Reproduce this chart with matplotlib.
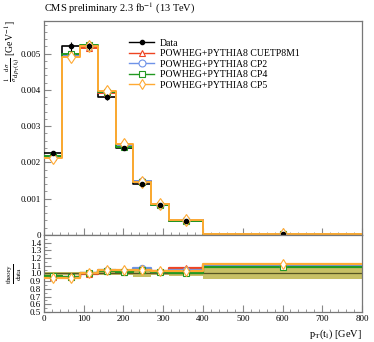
import numpy as np
import matplotlib
matplotlib.use("Agg")
import matplotlib.pyplot as plt
from matplotlib.lines import Line2D
from matplotlib.ticker import MultipleLocator, FixedLocator, FuncFormatter

plt.rcParams["font.family"] = ["Liberation Serif", "DejaVu Serif"]
plt.rcParams["mathtext.fontset"] = "stix"

# --- data ---
bin_edges = [0, 45, 90, 135, 180, 225, 270, 315, 400, 800]
data_vals = [0.00225, 0.00520, 0.00520, 0.00380, 0.00240, 0.00140, 0.00082, 0.00039, 0.00002]
data_err = [0.00005, 0.00012, 0.00010, 0.00008, 0.00005, 0.00005, 0.00003, 0.00001, 0.000002]
band_err = [0.025, 0.025, 0.02, 0.02, 0.02, 0.04, 0.02, 0.03, 0.07]

model_names = ["POWHEG+PYTHIA8 CUETP8M1", "POWHEG+PYTHIA8 CP2",
               "POWHEG+PYTHIA8 CP4", "POWHEG+PYTHIA8 CP5"]
ratio_cuetp8m1 = [0.960, 0.955, 0.990, 1.030, 1.025, 1.060, 1.030, 1.065, 1.110]
ratio_cp2 = [0.955, 0.955, 1.000, 1.040, 1.030, 1.070, 1.020, 1.045, 1.100]
ratio_cp4 = [0.970, 0.960, 1.010, 1.035, 1.015, 1.040, 1.025, 1.000, 1.090]
ratio_cp5 = [0.940, 0.945, 1.000, 1.045, 1.040, 1.050, 1.035, 1.035, 1.120]

model_colors = ["#ee4422", "#6f93e8", "#229922", "#ffaa33"]
model_markers = ["^", "o", "s", "d"]

edges = np.array(bin_edges, dtype=float)
centers = 0.5 * (edges[1:] + edges[:-1])
data = np.array(data_vals)
ratios = [np.array(r) for r in (ratio_cuetp8m1, ratio_cp2, ratio_cp4, ratio_cp5)]


def step_y(vals):
    return np.append(vals, vals[-1])


fig = plt.figure(figsize=(3.74, 3.42), dpi=100)
ax = fig.add_axes([0.1176, 0.3129, 0.8504, 0.6257])
rax = fig.add_axes([0.1176, 0.0877, 0.8504, 0.2252], sharex=ax)

# main panel
ax.step(edges, step_y(data), where="post", color="black", lw=1.2, zorder=3)
ax.errorbar(centers, data, yerr=data_err, fmt="o", color="black", ms=3,
            lw=0.8, zorder=6)
handles = [Line2D([], [], color="black", lw=1.0, marker="o", ms=3)]
for r, name, c, m in zip(ratios, model_names, model_colors, model_markers):
    vals = data * r
    ax.step(edges, step_y(vals), where="post", color=c, lw=1.4, zorder=4)
    ax.plot(centers, vals, ls="none", marker=m, mfc="white", mec=c, ms=5 if m != "d" else 6,
            mew=0.8, zorder=5)
    handles.append(Line2D([], [], color=c, lw=1.0, marker=m, mfc="white", mec=c,
                          ms=5, mew=0.8))

ax.set_xlim(0, 800)
ax.set_ylim(0, 0.0059)
ax.yaxis.set_major_locator(FixedLocator([0, 0.001, 0.002, 0.003, 0.004, 0.005]))
ax.yaxis.set_minor_locator(MultipleLocator(0.0002))
ax.yaxis.set_major_formatter(FuncFormatter(lambda v, p: "0" if v == 0 else f"{v:.3f}"))
ax.tick_params(axis="x", labelbottom=False)

ax.legend(handles, ["Data"] + model_names, loc="upper left", bbox_to_anchor=(0.255, 0.935),
          frameon=False, fontsize=7, handlelength=2.6, handletextpad=0.6,
          labelspacing=0.15, borderaxespad=0)

ax.text(0.0, 1.025, r"CMS preliminary 2.3 fb$^{-1}$ (13 TeV)", transform=ax.transAxes,
        fontsize=7.5, ha="left", va="bottom")
fig.text(0.008, 0.94, r"$\frac{1}{\sigma}\frac{\mathrm{d}\sigma}{\mathrm{d}p_\mathrm{T}(\mathrm{t_l})}$ [GeV$^{-1}$]",
         rotation=90, fontsize=7, ha="left", va="top")

# ratio panel
band_lo = 1 - np.array(band_err)
band_hi = 1 + np.array(band_err)
rax.fill_between(edges, step_y(band_lo), step_y(band_hi), step="post",
                 color="#bdb54a", alpha=0.85, lw=0, zorder=1)
rax.axhline(1.0, color="#555522", lw=0.9, zorder=2)
for r, c, m in zip(ratios, model_colors, model_markers):
    rax.step(edges, step_y(r), where="post", color=c, lw=1.6, zorder=3)
    rax.plot(centers, r, ls="none", marker=m, mfc="white", mec=c, ms=4.5 if m != "d" else 5.5,
             mew=0.8, zorder=4)

rax.set_ylim(0.5, 1.5)
rax.yaxis.set_major_locator(FixedLocator([0.5, 0.6, 0.7, 0.8, 0.9, 1.0, 1.1, 1.2, 1.3, 1.4]))
rax.yaxis.set_minor_locator(MultipleLocator(0.05))
rax.yaxis.set_major_formatter(FuncFormatter(lambda v, p: f"{v:.1f}"))
rax.xaxis.set_major_locator(MultipleLocator(100))
rax.xaxis.set_minor_locator(MultipleLocator(20))
fig.text(0.012, 0.2, r"$\frac{\mathrm{theory}}{\mathrm{data}}$",
         rotation=90, fontsize=7.5, ha="left", va="center")
rax.text(1.0, -0.2, r"p$_\mathrm{T}$(t$_\mathrm{l}$) [GeV]", transform=rax.transAxes,
         fontsize=7.5, ha="right", va="top")

for a in (ax, rax):
    a.tick_params(which="both", direction="in", color="#888888", top=False, right=False,
                  labelsize=6.5, pad=2)
    a.tick_params(which="major", length=5, width=0.8)
    a.tick_params(which="minor", length=2.5, width=0.6)
    for s in a.spines.values():
        s.set_color("#777777")
        s.set_linewidth(0.9)

fig.savefig("out.png", dpi=100)
